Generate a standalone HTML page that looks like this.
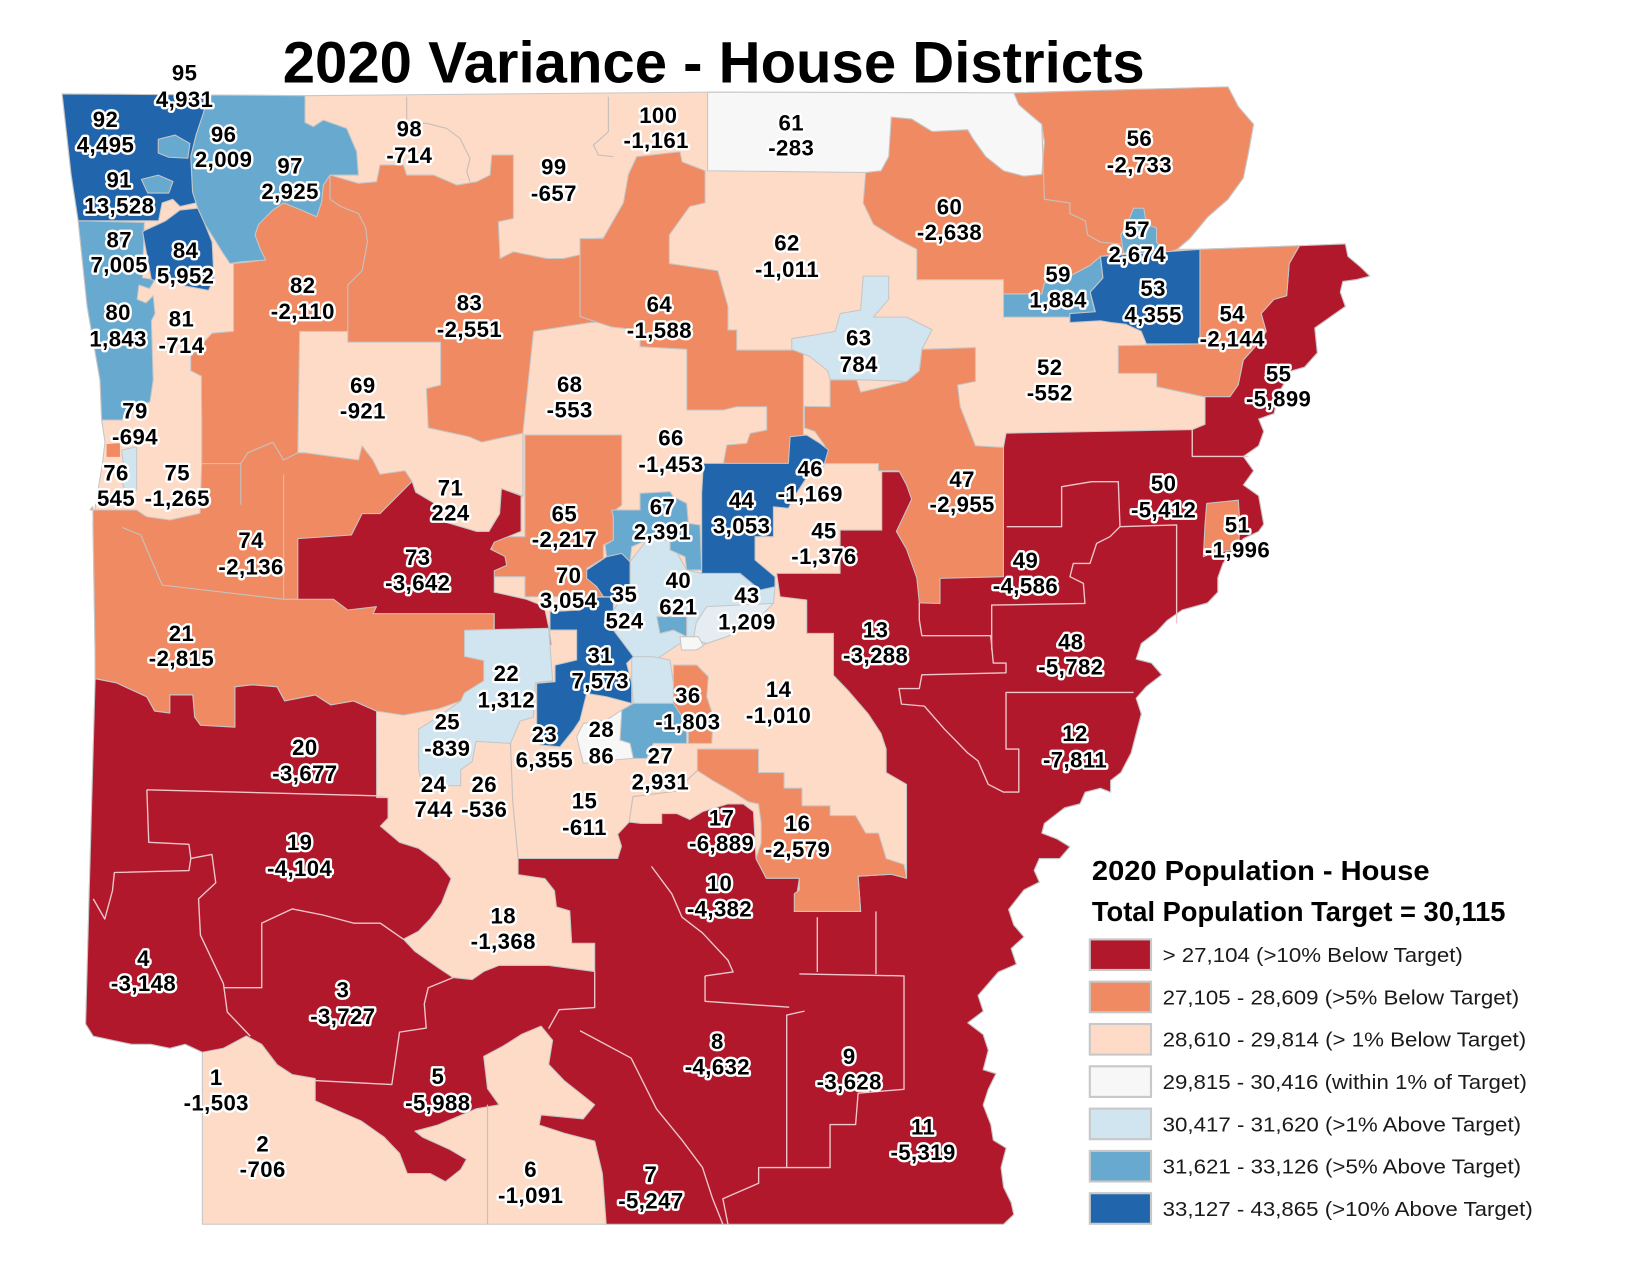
<!DOCTYPE html>
<html>
<head>
<meta charset="utf-8">
<style>
html,body{margin:0;padding:0;background:#fff;}
svg{display:block;}
.l{font-family:"Liberation Sans",Arial,sans-serif;font-weight:bold;font-size:21px;text-anchor:middle;fill:#000;stroke:#fff;stroke-width:4.5px;paint-order:stroke;stroke-linejoin:round;letter-spacing:0.4px;}
.lg{font-family:"Liberation Sans",Arial,sans-serif;font-size:19.5px;fill:#1a1a1a;}
.lt{font-family:"Liberation Sans",Arial,sans-serif;font-weight:bold;fill:#000;}
.b{stroke:#c6c6c6;stroke-width:1;stroke-linejoin:round;}
.ri{fill:none;stroke:#edc7cb;stroke-width:1.3;stroke-linejoin:round;}
.oi{fill:none;stroke:#c8c0bb;stroke-width:1.1;stroke-linejoin:round;}
</style>
</head>
<body>
<svg width="1650" height="1275" viewBox="0 0 1564 1208.5" xmlns="http://www.w3.org/2000/svg">
<rect x="0" y="0" width="1564" height="1208.5" fill="#fff"/>

<!-- STATE BASE (peach) -->
<polygon class="b" fill="#fddbc7" stroke="#b5b5b5" stroke-width="1.5" points="58.9,89 289,90.7 670.7,87.3 960.9,88 1164,82.3 1173.7,100.9 1188.2,117.8 1183.3,144.9 1178.5,168.6 1163.9,188.9 1144.6,205.8 1127.7,226.1 1115.6,236.3 1137.4,236.3 1231.7,232.9 1275.2,231.2 1277.6,243 1289.7,253.2 1298.4,261.7 1284.9,265.1 1272.8,266.7 1270.4,276.9 1275.2,290.4 1260.7,300.6 1246.2,310.8 1248.6,334.4 1236.5,348 1224.4,351.4 1212.3,371.7 1207.5,392 1193,397.1 1197.8,408.9 1193,422.5 1178.5,432.6 1188.2,446.2 1178.5,459.7 1193,469.9 1197.8,496.9 1193,503.7 1178.5,510.5 1168.8,520.6 1159.1,534.2 1154.3,547.7 1154.3,561.2 1144.6,571.4 1120.4,578.2 1106,588.3 1096.3,598.8 1081.8,609.9 1076.9,624.8 1091.4,628.5 1101.1,639.6 1086.6,650.7 1076.9,661.8 1081.8,676.7 1076.9,695.2 1072.1,713.7 1062.4,732.3 1052.7,739.7 1052.7,750.8 1043.1,747.1 1028.6,750.8 1023.7,761.9 1009.2,765.6 989.9,780.5 987.5,789.7 1002,795.3 1014,802.7 1004.4,813.8 985.1,813.8 980.2,825 985.1,836.1 970.5,843.5 956,862 960.9,876.8 970.5,888 958.4,899.1 963.3,913.9 946.3,921.3 927,943.6 931.9,958.4 917.3,969.5 931.9,980.6 936.7,995.5 931.9,1014 944,1017.7 936.7,1032.5 931.9,1047.4 939.1,1065.9 941.5,1080.7 953.6,1088.2 948.8,1106.7 951.2,1125.2 958.4,1140 960.9,1151.2 951.2,1160.4 574.6,1160.4 191.8,1160.4 191.8,997.4 175.5,989.8 161,993.6 142.8,989.8 124.7,989.8 106.5,986 88.4,982.1 81.2,970.6 84.8,836.7 90.2,645 90,611.3 88,495 92,470 97,440 99.5,419.1 96.4,398.1 94.8,360.2 82.6,290.4 74.1,209.2 67.4,165.2"/>

<!-- ORANGE NW (82,83,74,21) -->
<polygon class="b" fill="#ef8a62" points="88,480 90,611.3 90.2,643.3 110.2,647.2 139.2,660.6 146.5,674 161,675.9 161,658.7 182.7,658.7 184.5,679.7 190,687.4 222.7,689.3 222.7,651 239,649.1 262.6,651 269.8,664.4 298.8,658.7 313.4,668.2 335.1,664.4 356.9,674 382.3,677.8 415,672 436.7,664.4 467.5,645.3 467.5,611 468.5,581.6 468.5,500 495.6,470 495.6,410.6 505.7,314.1 559.9,305.7 582.9,305.7 582.9,224.4 563.3,226.1 562.5,238.6 534,245 518.2,245 486.6,238.6 473.9,245 472.4,210.1 486.6,207 486.6,146.9 466.1,146.9 464.5,165.9 451.8,172.2 432.9,175.4 410.9,165.9 385.5,165.9 382.3,156.4 360.2,156.4 357,172.2 339.7,173.8 312.8,165.9 306.5,175.4 304.9,191.2 300.2,205.4 285.7,199.1 268.8,192.3 258.6,199.1 245.1,212.6 241.7,222.7 246.8,236.3 251.8,246.4 221.4,249.8 221.4,314.1 201.1,315.8 180.8,337.8 180.8,351.4 190.9,356.5 190.9,375.1 191.2,395.4 191.2,419.1 191.2,439.4 189.6,486.6 161.1,492.9 139,489.8 129.5,483.4 85.3,483.4"/>
<!-- ORANGE 65 -->
<polygon class="b" fill="#ef8a62" points="497.6,412.3 589.3,412.3 589.3,478.7 581.4,485 581.4,511.9 571.9,516.6 571.9,529.2 556.1,538.7 557.7,548.2 571.9,556.1 573.5,565.6 497.6,565.6 497.6,546.6 466.1,546.6 466.1,508.7 497.6,508.7"/>
<!-- ORANGE 64 band -->
<polygon class="b" fill="#ef8a62" points="595.7,165.2 603.5,148.5 644.6,143.8 646.5,153.4 668.3,161.8 668.3,192.3 653.8,195.7 634.4,222.7 634.4,249.8 680.4,256.6 690,290.4 690,312.8 698.3,312.8 698.3,331.8 761.5,331.8 761.5,417.1 748.9,417.1 748.9,439.2 685.7,439.2 688.9,421.8 707.8,420.2 711,410.8 726.8,407.6 726.8,385.5 698.3,385.5 685.7,388.6 651,388.6 651,331.1 606.7,328.6 606.7,312.8 580,310 549.8,300 549.8,226.1 571.6,226.1 590.9,192.3"/>
<!-- small orange notch near 76 -->
<polygon fill="#ef8a62" points="101,421 113.7,420 113.7,433 101,433"/>

<!-- PEACH island 69/71 -->
<polygon class="b" fill="#fddbc7" points="284,314.1 329.7,314.1 329.7,324.3 417.7,324.3 417.7,364.9 404.2,368.3 405.9,405.5 444.8,414 456.6,419.1 495.6,410.6 495.6,469.9 475.3,463.1 473.6,486.8 463.4,503.7 451.6,503.7 417.7,493.6 410.9,476.6 394,466.5 390.6,456.3 383.9,446.2 360.2,449.5 353.4,436 343.2,422.5 339.9,436 289.1,429.2 282.3,429.2"/>

<!-- RED BIG (south + east) -->
<polygon class="b" fill="#b2182b" points="90.2,643.3 110.2,647.2 139.2,660.6 146.5,674 161,675.9 161,658.7 182.7,658.7 184.5,679.7 190,687.4 222.7,689.3 222.7,651 239,649.1 262.6,651 269.8,664.4 298.8,658.7 313.4,668.2 335.1,664.4 356.9,674 357,756 367.8,756 367.8,775.4 360.5,783 378.7,798.4 396.8,804.1 415,817.5 427.6,832.8 418.6,855.8 407.7,871.1 396.8,882.6 382.3,890.2 393.2,901.7 415,917 429.4,926.6 447.6,928.5 458.5,920.9 473,915.1 520.1,915.1 563.7,920.9 563.7,894.1 541.9,894.1 540.1,863.4 527.4,859.6 525.6,844.3 516.5,832.8 491.1,829 491.1,813.7 585.5,813.7 589.1,802.2 585.5,790.7 596.3,779.2 607.8,780.5 627.2,780.5 627.2,771.2 641.7,771.2 653.8,776.8 665.9,769.3 690,762 704.5,762 714.2,769.3 716.6,813.8 726.3,832.4 757.7,832.4 752.9,863.9 815.8,863.9 813.4,830.5 844.8,828.7 859.3,832.4 859.3,769.3 859.3,743.4 840,732.3 840,710 835.1,695.2 823,676.7 803.7,654.4 790,640 790,600.4 764.7,600.4 764.7,568.7 739.4,565.6 736.2,543.5 796.3,543.5 796.3,502.4 835.8,502.4 835.8,447.1 856.3,447.1 951.2,424.1 953.6,410.6 1130.1,407.2 1142.2,402.2 1142.2,371.7 1144.6,371.7 1159.1,368.3 1173.6,364.9 1178.5,341.2 1190.6,327.7 1200.2,314.1 1195.4,297.2 1207.5,283.7 1219.6,280.3 1222,249.8 1231.7,232.9 1275.2,231.2 1277.6,243 1289.7,253.2 1298.4,261.7 1284.9,265.1 1272.8,266.7 1270.4,276.9 1275.2,290.4 1260.7,300.6 1246.2,310.8 1248.6,334.4 1236.5,348 1224.4,351.4 1212.3,371.7 1207.5,392 1193,397.1 1197.8,408.9 1193,422.5 1178.5,432.6 1188.2,446.2 1178.5,459.7 1193,469.9 1197.8,496.9 1193,503.7 1178.5,510.5 1168.8,520.6 1159.1,534.2 1154.3,547.7 1154.3,561.2 1144.6,571.4 1120.4,578.2 1106,588.3 1096.3,598.8 1081.8,609.9 1076.9,624.8 1091.4,628.5 1101.1,639.6 1086.6,650.7 1076.9,661.8 1081.8,676.7 1076.9,695.2 1072.1,713.7 1062.4,732.3 1052.7,739.7 1052.7,750.8 1043.1,747.1 1028.6,750.8 1023.7,761.9 1009.2,765.6 989.9,780.5 987.5,789.7 1002,795.3 1014,802.7 1004.4,813.8 985.1,813.8 980.2,825 985.1,836.1 970.5,843.5 956,862 960.9,876.8 970.5,888 958.4,899.1 963.3,913.9 946.3,921.3 927,943.6 931.9,958.4 917.3,969.5 931.9,980.6 936.7,995.5 931.9,1014 944,1017.7 936.7,1032.5 931.9,1047.4 939.1,1065.9 941.5,1080.7 953.6,1088.2 948.8,1106.7 951.2,1125.2 958.4,1140 960.9,1151.2 951.2,1160.4 574.6,1160.4 571,1112.3 563.7,1081.6 534.7,1074 511.1,1066.3 512.9,1056.8 552.8,1060.6 563.7,1047.2 549.2,1035.7 534.7,1024.2 520.1,1008.9 523.8,986 512.9,972.6 494.8,980.2 476.6,991.7 458.5,1001.3 462.1,1031.9 473,1047.2 451.2,1051 415,1066.3 393.2,1072.1 400.4,1077.8 425.8,1089.3 442.1,1098.9 436.7,1108.5 422.2,1120 407.7,1112.3 386,1112.3 378.7,1093.1 364.1,1077.8 342.4,1062.5 320.6,1053 298.8,1043.4 298.8,1022.3 277.1,1018.5 262.6,1009 248,989.8 233.5,982 211.8,993.6 191.8,997.4 175.5,989.8 161,993.6 142.8,989.8 124.7,989.8 106.5,986 88.4,982.1 81.2,970.6 84.8,836.7"/>
<!-- RED 73 -->
<polygon class="b" fill="#b2182b" points="390.6,456.3 394,466.5 410.9,476.6 417.7,493.6 451.6,503.7 463.4,503.7 473.6,486.8 475.3,463.1 493.9,469.9 493.9,503.7 468.5,513.9 465.1,520.6 478.6,527.4 480.3,535.9 468.5,541 468.5,561.2 498.9,568 515.9,574.8 521,598.5 522.6,611.3 468.5,611.3 468.5,581.6 353.7,581.6 356.8,575 329.7,578.2 316.2,568 282.3,568 282.3,510.5 333.1,507.1 343.2,486.8 360.2,486.8"/>

<!-- ORANGE on top of red -->
<polygon class="b" fill="#ef8a62" points="820.6,163.5 835.1,161.8 842.4,148.3 844.8,111 864.1,112.7 883.5,124.6 917.3,122.9 922.2,131.3 934.3,148.3 951.2,161.8 970.5,166.9 987.5,165.2 989.9,134.7 987.5,117.8 975.4,107.7 965.7,99.2 960.9,88 1164,82.3 1173.7,100.9 1188.2,117.8 1183.3,144.9 1178.5,168.6 1163.9,188.9 1144.6,205.8 1127.7,226.1 1115.6,236.3 1106,239.7 1064.8,239.7 1043.1,243 1033.4,251.5 1014.1,261.7 989.9,268.4 987.5,278.6 951.2,278.6 951.2,265.1 869,265.1 869,236.3 849.6,226.1 827.9,212.6 818.2,192.3"/>
<polygon class="b" fill="#ef8a62" points="762.6,385.2 786.8,385.5 786.8,360.2 812.1,360.2 815.8,371.7 859.3,361.5 871.4,351.4 873.8,331.1 924.6,329.4 924.6,361.5 907.7,364.9 910.1,385.2 924.6,422.5 951.2,424.1 951.1,546.6 891,548.2 891,572 871.4,571.4 869,547.7 859.3,520.6 849.6,503.7 864.1,473.2 859.3,459.7 852.1,446.2 832.7,446.2 832.7,439.4 781.9,439.4 781.9,422.5 772.3,408.9 762.6,405.5"/>
<polygon class="b" fill="#ef8a62" points="1137.4,236.3 1231.7,232.9 1222,249.8 1219.6,280.3 1207.5,283.7 1195.4,297.2 1200.2,314.1 1190.6,327.7 1178.5,341.2 1173.6,364.9 1165.9,376 1140.6,376 1096.4,366.5 1096.4,353.9 1060,353.9 1060,327.7 1137.4,326"/>
<polygon class="b" fill="#ef8a62" points="661,710 719,710 719,732.3 743.2,732.3 743.2,747.1 760.2,747.1 760.2,763.8 786.8,763.8 786.8,773.1 811,773.1 820.6,789.7 832.7,789.7 840,813.8 856.9,819.4 859.3,832.4 844.8,828.7 813.4,830.5 815.8,863.9 752.9,863.9 752.9,847.2 757.7,843.5 757.7,832.4 726.3,832.4 716.6,813.8 721.5,799 721.5,780 719,762 709.4,760 694.9,750.8 675.5,739.7 661,730.4"/>
<polygon class="b" fill="#ef8a62" points="638.3,630.4 660.4,630.4 671.4,641.4 669.9,660.4 676.2,679.3 674.6,704.6 652.5,704.6 652.5,692 635.1,685.7 632,660.4 638.3,647.7"/>
<polygon class="b" fill="#ef8a62" points="1143.8,477.1 1173.8,474 1175.4,499.2 1173.6,520.6 1149.5,524 1140.6,527.7 1142.2,497"/>

<!-- WHITE 61 -->
<polygon class="b" fill="#f7f7f7" points="670.7,87.3 960.9,88 965.7,99.2 975.4,107.7 987.5,117.8 989.9,134.7 987.5,165.2 970.5,166.9 951.2,161.8 934.3,148.3 922.2,131.3 917.3,122.9 883.5,124.6 864.1,112.7 844.8,111 842.4,148.3 835.1,161.8 820.6,163.5 670.7,161.8"/>

<!-- LIGHT BLUE -->
<polygon class="b" fill="#d1e5f0" points="818.2,261.7 842.4,261.7 842.4,283.7 827.9,300.6 859.3,300.6 883.5,312.4 873.8,331.1 871.4,351.4 859.3,361.5 815.8,360 787,360 784.4,351.4 767.4,337.8 750.5,331.1 750.5,320.9 772.3,317.5 791.6,314.1 796.4,297.2 815.8,293.8"/>
<polygon class="b" fill="#d1e5f0" points="440.3,597.4 520.1,595.5 523.8,645.3 507.4,647.2 505.6,679.7 492.9,683.5 483.9,704.6 451.2,702.7 447.6,721.8 436.7,729.5 436.7,744.8 400.4,744.8 396.8,729.5 396.8,691.2 415,679.7 436.7,664.4 440.3,656.7 458.5,645.3 458.5,626.1 440.3,622.3"/>
<polygon class="b" fill="#d1e5f0" points="597.2,532.4 613,511.9 635.1,511.9 650.9,540.3 665.1,543.5 701.5,543.5 720.4,559.3 734.6,556.1 733.1,571.9 720.4,584.5 701.5,597.2 688.8,603.5 669.9,609.8 657.2,616.1 644.6,609.8 625.6,622.5 619.3,628.8 616.1,647.7 603.5,654 600.4,625.6 590.9,609.8 581.4,597.2 581.4,578.2 597.2,556.1"/>
<polygon class="b" fill="#d1e5f0" points="598.8,622.5 619.3,622.5 635.1,625.6 638.3,647.7 638.3,666.7 600.3,666.7 598.8,647.7"/>
<polygon class="b" fill="#e6edf2" points="669.9,575 733.1,571.9 720.4,584.5 701.5,597.2 688.8,603.5 669.9,609.8 657.2,606 660,590"/>
<polygon class="b" fill="#d1e5f0" points="115.3,426.6 129.5,423.4 129.5,464.5 120,469.2 115,455 117,440"/>

<!-- MID BLUE -->
<polygon class="b" fill="#67a9cf" points="197.7,90 289.1,90.7 289.1,116.1 297,120 306.5,113.8 328.6,121.7 338.1,143.8 339.7,165.9 312.8,165.9 306.5,175.4 304.9,191.2 300.2,205.4 285.7,199.1 268.8,192.3 258.6,199.1 245.1,212.6 241.7,222.7 246.8,236.3 251.8,246.4 228.2,248.1 218,249.8 211.2,239.7 202.8,226.1 194.3,212.6 187.5,197.4 182.5,182.1 180.8,148.3 185.8,128 192.6,107.6"/>
<polygon class="b" fill="#67a9cf" points="74.1,209.2 136.8,210.9 135.1,263.4 146.9,265.1 141.8,273.5 131.7,270.1 130,283.7 138.4,287.1 145.2,280.3 146.9,297.2 143.5,304 145.2,360.2 142.2,380.7 120.1,391.8 115.3,398.1 96.4,398.1 94.8,360.2 82.6,290.4"/>
<polygon class="b" fill="#67a9cf" points="1074.5,197.4 1084.2,197.4 1086.6,212.6 1096.3,216 1096.3,229.5 1106,239.7 1064.8,239.7 1062.4,222.7 1069.7,209.2"/>
<polygon class="b" fill="#67a9cf" points="951.2,278.6 987.5,278.6 989.9,268.4 1014.1,261.7 1033.4,251.5 1043.1,243 1045.5,263.4 1033.4,276.9 1038.2,297.2 1014.1,298.9 1014.1,300.6 951.2,300.6"/>
<polygon class="b" fill="#67a9cf" points="579.8,483.4 606.7,483.4 606.7,467.6 635.1,466 638.3,470.8 650.9,477.1 652.5,496.1 663.5,497.6 665.1,540.3 650.9,540.3 649.3,527.7 635.1,521.3 635.1,511.9 613,511.9 598.8,518.2 597.2,532.4 587.7,526.1 575,527.7 573.5,516.6 581.4,511.9 581.4,489.7"/>
<polygon class="b" fill="#67a9cf" points="600.3,666.7 638.3,666.7 650.9,685.7 650.9,704.6 619.3,704.6 613,718.8 600.3,718.8 597.2,704.6 587.7,701.5 589.3,673"/>
<polygon class="b" fill="#67a9cf" points="622.5,584.5 650.9,584.5 650.9,603.5 638.3,597.2 625.6,600.4"/>

<!-- DARK BLUE -->
<polygon class="b" fill="#2166ac" points="58.9,89 197.7,90 192.6,107.6 185.8,128 180.8,148.3 182.5,182.1 185.8,192.3 170.6,195.7 163.8,188.9 153.7,192.3 150.3,209.2 123.2,209.2 74.1,209.2 67.4,165.2"/>
<polygon class="b" fill="#67a9cf" points="150,132 166,128 180,136 178,150 160,149 150,145"/>
<polygon class="b" fill="#67a9cf" points="134,170 150,166 164,172 160,183 140,183"/>
<polygon class="b" fill="#2166ac" points="135.1,219.4 157.1,209.2 170.6,199.1 187.5,197.4 194.3,212.6 201.1,229.5 202.8,263.4 197.7,275.2 143.5,265.1"/>
<polygon class="b" fill="#2166ac" points="1043.1,243 1137.4,236.3 1137.4,326 1086.6,326 1081.8,314.1 1067.3,307.4 1053,305.7 1043.1,304 1014.1,305.7 1014.1,297.2 1038.2,295.5 1033.4,276.9 1045.5,263.4"/>
<polygon class="b" fill="#2166ac" points="666.7,439.2 747.3,439.2 748.9,413.9 764.7,412.3 777.3,420.2 785.2,426.5 780.5,442.3 765,452 752,472 747.3,481.8 733.1,480.3 733.1,508.7 715.7,508.7 715.7,530.8 734.6,546.6 734.6,556.1 720.4,559.3 701.5,543.5 665.1,543.5 665.1,467.6"/>
<polygon class="b" fill="#2166ac" points="556.1,540.3 575,527.7 589.3,524.5 597.2,532.4 597.2,556.1 581.4,565.6 571.9,565.6 565.6,556.1 556.1,548.2"/>
<polygon class="b" fill="#2166ac" points="521.3,579.8 549.8,578.2 556.1,571.9 565.6,566 581.4,566 581.4,597.2 590.9,609.8 600.4,622.5 594,628.8 598.8,647.7 598.8,666.7 575,660.4 556.1,657.2 549.8,682.5 543.5,692 530.8,707.8 511.9,706.2 508.7,695.1 508.7,647.7 526.1,646.2 526.1,630.4 546.6,625.6 546.6,597.2 521.3,597.2"/>
<polygon class="b" fill="#f7f7f7" points="552.9,685.7 575,682.5 589.3,673 587.7,701.5 597.2,704.6 600.3,718.8 581.4,720.4 552.9,723.6 546.6,698.3"/>
<polygon class="b" fill="#f7f7f7" points="644.6,603.5 662,603.5 666.7,612 660,616.1 646,616.1"/>

<!-- internal red boundaries -->
<g class="ri">
<polyline points="139.2,748.6 356.9,754.3 367.8,756"/>
<polyline points="139.2,748.6 141,798.4 179.1,800.3 180.9,813.7 200.9,809.9 204.5,836.7 188.2,852 190,886.4 211.8,932.4 215.4,959.2 237.2,982.1"/>
<polyline points="88.4,852 99.3,871.1 106.6,844.3 108.4,827 179.1,825.2 180.9,813.7"/>
<polyline points="211.8,936.2 248.1,936.2 248.1,875 277.1,861.5 306.1,867.3 335.1,875 360.5,875 382.3,890.2"/>
<polyline points="429.4,926.6 405.9,936.2 402.2,951.5 404,974.5 378.7,978.3 371.4,1028 298.8,1024.2"/>
<polyline points="563.7,920.9 563.7,955 530,957 520,975"/>
<polyline points="871.4,571.4 871.4,587.7 873.8,602.5 939.1,602.5 941.5,628.5 953.6,628.5 953.6,637.7 873.8,639.6 871.4,652.6 852.1,652.6 854.5,667.4 876.2,669.3 895.6,691.5 910.1,706.3 917.3,713.7 927,721.2 936.7,743.4 951.2,750.8 965.7,750.8 965.7,710 953.6,710 953.6,656.3 1074.5,656.3"/>
<polyline points="940,616.2 940,573.5 1028.4,572 1026.9,552.9 1014.2,546.6 1017.4,534 1033.2,534 1039.5,515 1052.1,508.7 1061.6,499.2"/>
<polyline points="954.2,499.2 1006.3,499.2 1006.3,461.3 1034.8,456.6 1060,456.6 1061.6,499.2 1115.3,497.6 1115.3,590.9"/>
<polyline points="1130.1,407.2 1130.1,432.6 1183.3,432.6"/>
<polyline points="757.7,923.2 856.9,925 856.9,1032.5 813.4,1036.2 811,1065.9 786.8,1065.9 786.8,1106.7 719.1,1106.7 719.1,1121.5 685.2,1136.3 690,1160.4"/>
<polyline points="762.6,958.4 745.7,962.1 745.7,1106.7"/>
<polyline points="668.3,925 668.3,949.1 748.1,954.7"/>
<polyline points="774.7,869.4 774.7,921.3"/>
<polyline points="830.3,863.9 830.3,923.2"/>
<polyline points="617.5,821.2 636.8,847.2 646.5,869.4 665.9,884.3 690,910.2 694.9,921.3 668.3,925"/>
<polyline points="549.8,977 598.2,1002.9 622.3,1051.1 646.5,1080.7 665.9,1106.7 675.5,1136.3 685.2,1160.4"/>
</g>
<!-- internal orange/peach boundaries -->
<g class="oi">
<polyline points="312.8,165.9 312.8,188.9 323,195.7 339.9,202.4 346.6,216 348.3,229.5 343.2,256.6 329.7,270.1 329.7,314.1"/>
<polyline points="191.2,439.4 228.2,439.4 234.9,429.2 258.6,419.1 268.8,436 282.3,429.2"/>
<polyline points="228.2,439.4 228.2,478.3"/>
<polyline points="116,500 133.4,507.1 153.7,554.5 268.8,568 282.3,568"/>
<polyline points="268.8,568 268.8,449.5"/>
<polyline points="987.5,117.8 989.9,188.9 1014.1,192.3 1014.1,202.4 1028.6,209.2 1031,222.7 1043.1,229.5 1062.4,231.2"/>
<polyline points="385.5,91.6 385.5,116.9 404.5,116.9 423.4,121.7 436,131.1 445.5,150.1 442.4,162.7 445.5,172.2"/>
<polyline points="576.7,91.6 576.7,124.8 562.5,137.5 567.2,147 581.4,148.5"/>
<polyline points="462.1,1047 462.1,1160.4"/>
<polyline points="596.3,779.2 600,755 640,750 661,730.4"/>
<polyline points="491.1,813.7 486,760 483.9,704.6"/>
</g>

<!-- TITLE -->
<text class="lt" x="268" y="78" font-size="55" textLength="817" lengthAdjust="spacingAndGlyphs">2020 Variance - House Districts</text>

<!-- LABELS -->
<g class="l" transform="translate(0,7.5)">
<text x="175" y="69">95</text><text x="175" y="94">4,931</text>
<text x="100" y="113">92</text><text x="100" y="137">4,495</text>
<text x="212" y="127">96</text><text x="212" y="151">2,009</text>
<text x="275" y="157">97</text><text x="275" y="181">2,925</text>
<text x="388" y="122">98</text><text x="388" y="147">-714</text>
<text x="624" y="109">100</text><text x="622" y="133">-1,161</text>
<text x="750" y="116">61</text><text x="750" y="140">-283</text>
<text x="1080" y="131">56</text><text x="1080" y="156">-2,733</text>
<text x="525" y="158">99</text><text x="525" y="183">-657</text>
<text x="113" y="170">91</text><text x="113" y="195">13,528</text>
<text x="900" y="196">60</text><text x="900" y="220">-2,638</text>
<text x="746" y="230">62</text><text x="746" y="255">-1,011</text>
<text x="1078" y="217">57</text><text x="1078" y="241">2,674</text>
<text x="113" y="227">87</text><text x="113" y="251">7,005</text>
<text x="176" y="237">84</text><text x="176" y="261">5,952</text>
<text x="287" y="270">82</text><text x="287" y="295">-2,110</text>
<text x="1003" y="260">59</text><text x="1003" y="284">1,884</text>
<text x="1093" y="273">53</text><text x="1093" y="298">4,355</text>
<text x="445" y="287">83</text><text x="445" y="312">-2,551</text>
<text x="625" y="288">64</text><text x="625" y="313">-1,588</text>
<text x="1168" y="297">54</text><text x="1168" y="321">-2,144</text>
<text x="112" y="296">80</text><text x="112" y="321">1,843</text>
<text x="172" y="302">81</text><text x="172" y="327">-714</text>
<text x="814" y="320">63</text><text x="814" y="345">784</text>
<text x="995" y="348">52</text><text x="995" y="372">-552</text>
<text x="1212" y="354">55</text><text x="1212" y="378">-5,899</text>
<text x="344" y="365">69</text><text x="344" y="389">-921</text>
<text x="540" y="364">68</text><text x="540" y="388">-553</text>
<text x="128" y="389">79</text><text x="128" y="414">-694</text>
<text x="636" y="415">66</text><text x="636" y="440">-1,453</text>
<text x="912" y="454">47</text><text x="912" y="478">-2,955</text>
<text x="768" y="444">46</text><text x="768" y="468">-1,169</text>
<text x="110" y="448">76</text><text x="110" y="472">545</text>
<text x="168" y="448">75</text><text x="168" y="472">-1,265</text>
<text x="427" y="462">71</text><text x="427" y="486">224</text>
<text x="703" y="474">44</text><text x="703" y="498">3,053</text>
<text x="1103" y="458">50</text><text x="1103" y="483">-5,412</text>
<text x="628" y="480">67</text><text x="628" y="504">2,391</text>
<text x="535" y="487">65</text><text x="535" y="511">-2,217</text>
<text x="781" y="503">45</text><text x="781" y="527">-1,376</text>
<text x="1173" y="497">51</text><text x="1173" y="521">-1,996</text>
<text x="238" y="512">74</text><text x="238" y="537">-2,136</text>
<text x="396" y="528">73</text><text x="396" y="552">-3,642</text>
<text x="972" y="531">49</text><text x="972" y="555">-4,586</text>
<text x="539" y="545">70</text><text x="539" y="569">3,054</text>
<text x="643" y="550">40</text><text x="643" y="575">621</text>
<text x="592" y="563">35</text><text x="592" y="588">524</text>
<text x="708" y="564">43</text><text x="708" y="589">1,209</text>
<text x="172" y="600">21</text><text x="172" y="624">-2,815</text>
<text x="830" y="597">13</text><text x="830" y="621">-3,288</text>
<text x="1015" y="608">48</text><text x="1015" y="632">-5,782</text>
<text x="569" y="621">31</text><text x="569" y="645">7,573</text>
<text x="480" y="638">22</text><text x="480" y="663">1,312</text>
<text x="738" y="653">14</text><text x="738" y="678">-1,010</text>
<text x="652" y="659">36</text><text x="652" y="684">-1,803</text>
<text x="424" y="684">25</text><text x="424" y="709">-839</text>
<text x="516" y="696">23</text><text x="516" y="720">6,355</text>
<text x="570" y="691">28</text><text x="570" y="716">86</text>
<text x="1019" y="695">12</text><text x="1019" y="720">-7,811</text>
<text x="289" y="708">20</text><text x="289" y="733">-3,677</text>
<text x="626" y="716">27</text><text x="626" y="741">2,931</text>
<text x="411" y="743">24</text><text x="411" y="767">744</text>
<text x="459" y="743">26</text><text x="459" y="767">-536</text>
<text x="554" y="759">15</text><text x="554" y="784">-611</text>
<text x="684" y="775">17</text><text x="684" y="799">-6,889</text>
<text x="756" y="780">16</text><text x="756" y="805">-2,579</text>
<text x="284" y="798">19</text><text x="284" y="823">-4,104</text>
<text x="682" y="837">10</text><text x="682" y="861">-4,382</text>
<text x="477" y="868">18</text><text x="477" y="892">-1,368</text>
<text x="136" y="908">4</text><text x="136" y="932">-3,148</text>
<text x="325" y="938">3</text><text x="325" y="963">-3,727</text>
<text x="680" y="987">8</text><text x="680" y="1011">-4,632</text>
<text x="805" y="1001">9</text><text x="805" y="1025">-3,628</text>
<text x="205" y="1021">1</text><text x="205" y="1045">-1,503</text>
<text x="415" y="1020">5</text><text x="415" y="1045">-5,988</text>
<text x="875" y="1068">11</text><text x="875" y="1092">-5,319</text>
<text x="249" y="1084">2</text><text x="249" y="1108">-706</text>
<text x="503" y="1108">6</text><text x="503" y="1133">-1,091</text>
<text x="617" y="1113">7</text><text x="617" y="1138">-5,247</text>
</g>

<!-- LEGEND -->
<text class="lt" x="1035" y="834" font-size="26" textLength="320" lengthAdjust="spacingAndGlyphs">2020 Population - House</text>
<text class="lt" x="1035" y="873" font-size="26" textLength="392" lengthAdjust="spacingAndGlyphs">Total Population Target = 30,115</text>
<g stroke="#c8c8c8" stroke-width="2">
<rect x="1033" y="890.4" width="58" height="29" fill="#b2182b"/>
<rect x="1033" y="930.5" width="58" height="29" fill="#ef8a62"/>
<rect x="1033" y="970.6" width="58" height="29" fill="#fddbc7"/>
<rect x="1033" y="1010.7" width="58" height="29" fill="#f7f7f7"/>
<rect x="1033" y="1050.8" width="58" height="29" fill="#d1e5f0"/>
<rect x="1033" y="1090.9" width="58" height="29" fill="#67a9cf"/>
<rect x="1033" y="1131" width="58" height="29" fill="#2166ac"/>
</g>
<text class="lg" x="1102" y="911.9" textLength="284.6" lengthAdjust="spacingAndGlyphs">&gt; 27,104 (&gt;10% Below Target)</text>
<text class="lg" x="1102" y="952" textLength="338" lengthAdjust="spacingAndGlyphs">27,105 - 28,609 (&gt;5% Below Target)</text>
<text class="lg" x="1102" y="992.1" textLength="344.6" lengthAdjust="spacingAndGlyphs">28,610 - 29,814 (&gt; 1% Below Target)</text>
<text class="lg" x="1102" y="1032.2" textLength="345.3" lengthAdjust="spacingAndGlyphs">29,815 - 30,416 (within 1% of Target)</text>
<text class="lg" x="1102" y="1072.3" textLength="339.8" lengthAdjust="spacingAndGlyphs">30,417 - 31,620 (&gt;1% Above Target)</text>
<text class="lg" x="1102" y="1112.4" textLength="339.8" lengthAdjust="spacingAndGlyphs">31,621 - 33,126 (&gt;5% Above Target)</text>
<text class="lg" x="1102" y="1152.5" textLength="350.9" lengthAdjust="spacingAndGlyphs">33,127 - 43,865 (&gt;10% Above Target)</text>
</svg>
</body>
</html>
